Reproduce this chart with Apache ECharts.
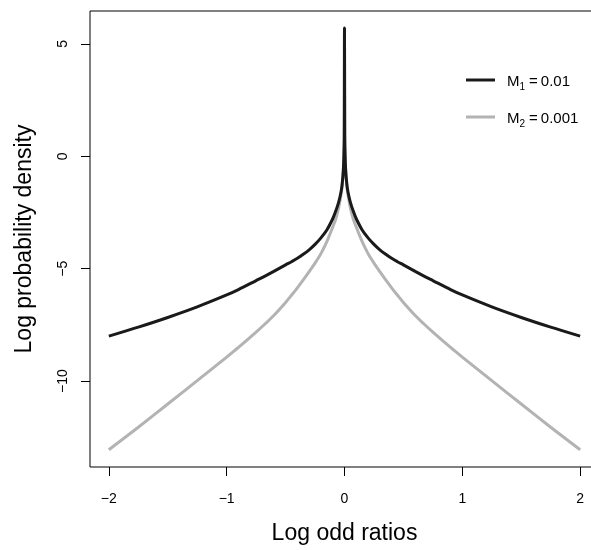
<!DOCTYPE html>
<html>
<head>
<meta charset="utf-8">
<script src="https://cdn.jsdelivr.net/npm/echarts@6/dist/echarts.min.js"></script>
<style>
html,body{margin:0;padding:0;background:#fff;overflow:hidden;width:591px;height:550px;}
#chart{width:600px;height:550px;}
</style>
</head>
<body>
<div id="chart"></div>
<script>
// Data
var xValues = [-2, -1.75, -1.5, -1.25, -1, -0.9, -0.75, -0.675, -0.6, -0.5, -0.45, -0.4, -0.35, -0.3, -0.25, -0.2, -0.15, -0.1, -0.075, -0.05, -0.03, -0.02, -0.01, -0.005, -0.002, 0,
               0.002, 0.005, 0.01, 0.02, 0.03, 0.05, 0.075, 0.1, 0.15, 0.2, 0.25, 0.3, 0.35, 0.4, 0.45, 0.5, 0.6, 0.675, 0.75, 0.9, 1, 1.25, 1.5, 1.75, 2];
var m1Values = [-8.0, -7.6, -7.17, -6.7, -6.17, -5.93, -5.53, -5.33, -5.12, -4.83, -4.69, -4.54, -4.36, -4.16, -3.92, -3.63, -3.28, -2.78, -2.45, -2.05, -1.6, -1.25, -0.62, 0.05, 0.9, 5.7,
                0.9, 0.05, -0.62, -1.25, -1.6, -2.05, -2.45, -2.78, -3.28, -3.63, -3.92, -4.16, -4.36, -4.54, -4.69, -4.83, -5.12, -5.33, -5.53, -5.93, -6.17, -6.7, -7.17, -7.6, -8.0];
var m2Values = [-13.05, -12.05, -11.02, -9.98, -8.93, -8.5, -7.82, -7.46, -7.08, -6.5, -6.18, -5.85, -5.5, -5.13, -4.75, -4.33, -3.8, -3.15, -2.8, -2.3, -1.72, -1.32, -0.66, 0.02, 0.9, 5.7,
                0.9, 0.02, -0.66, -1.32, -1.72, -2.3, -2.8, -3.15, -3.8, -4.33, -4.75, -5.13, -5.5, -5.85, -6.18, -6.5, -7.08, -7.46, -7.82, -8.5, -8.93, -9.98, -11.02, -12.05, -13.05];
var xTicks = [-2, -1, 0, 1, 2];
var yTicks = [-10, -5, 0, 5];
var seriesNames = ['M1', 'M2'];
var legendSub = ['1', '2'];
var legendValue = ['0.01', '0.001'];

function pairs(xs, ys) { return xs.map(function (x, i) { return [x, ys[i]]; }); }
function minus(v) { return String(v).replace('-', '\u2212'); }

var FONT = 'Liberation Sans, Arial, Helvetica, sans-serif';
var chart = echarts.init(document.getElementById('chart'), null, {renderer: 'canvas'});
chart.setOption({
  backgroundColor: '#fff',
  animation: false,
  grid: {left: 90, right: 1, top: 11, bottom: 83, show: true, borderColor: '#000', borderWidth: 1, backgroundColor: 'transparent'},
  legend: {
    orient: 'vertical', left: 461, top: 69, padding: 5,
    data: seriesNames,
    icon: 'rect', itemWidth: 29, itemHeight: 3, itemGap: 19,
    formatter: function (name) {
      var i = seriesNames.indexOf(name);
      return '{t|M}{s|' + legendSub[i] + '}{t|\u2009=\u2009' + legendValue[i] + '}';
    },
    textStyle: {
      color: '#000', fontFamily: FONT, fontSize: 15, padding: [0, 0, 0, 7],
      rich: {
        t: {fontSize: 15, fontFamily: FONT, color: '#000', lineHeight: 18, verticalAlign: 'bottom'},
        s: {fontSize: 10, fontFamily: FONT, color: '#000', lineHeight: 18, verticalAlign: 'bottom', padding: [0, 1, -3, 0]}
      }
    }
  },
  xAxis: {
    type: 'value', min: -2.16, max: 2.16,
    name: 'Log odd ratios', nameLocation: 'middle', nameGap: 55,
    nameTextStyle: {fontFamily: FONT, fontSize: 23, color: '#000'},
    axisLine: {show: false, onZero: false},
    axisTick: {show: true, length: 9, inside: false, customValues: xTicks, lineStyle: {color: '#000', width: 1}},
    axisLabel: {customValues: xTicks, margin: 25, fontFamily: FONT, fontSize: 14, color: '#000', formatter: minus},
    splitLine: {show: false}
  },
  yAxis: {
    type: 'value', min: -13.82, max: 6.46,
    name: 'Log probability density', nameLocation: 'middle', nameGap: 54, nameRotate: 90,
    nameTextStyle: {fontFamily: FONT, fontSize: 23, color: '#000'},
    axisLine: {show: false, onZero: false},
    axisTick: {show: true, length: 9, inside: false, customValues: yTicks, lineStyle: {color: '#000', width: 1}},
    axisLabel: {customValues: yTicks, rotate: 90, margin: 20, fontFamily: FONT, fontSize: 14, color: '#000', formatter: minus},
    splitLine: {show: false}
  },
  series: [
    {name: 'M2', type: 'line', data: pairs(xValues, m2Values), showSymbol: false, symbol: 'none', smooth: 0.3,
     lineStyle: {color: '#b3b3b3', width: 3}, itemStyle: {color: '#b3b3b3'}, z: 2},
    {name: 'M1', type: 'line', data: pairs(xValues, m1Values), showSymbol: false, symbol: 'none', smooth: 0.3,
     lineStyle: {color: '#1a1a1a', width: 3}, itemStyle: {color: '#1a1a1a'}, z: 3}
  ]
});
</script>
</body>
</html>
